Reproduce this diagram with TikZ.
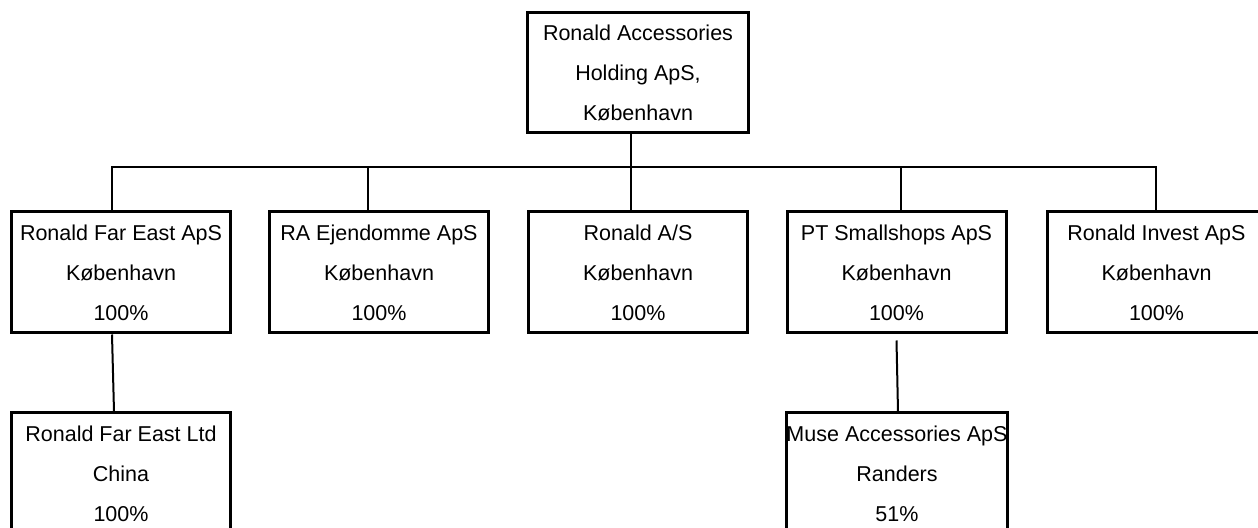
\documentclass[tikz,border=0pt]{standalone}
\usepackage{fontspec}
\setmainfont{Liberation Sans}
\usetikzlibrary{positioning,calc}
\tikzset{unit/.style={draw=black,line width=1.5pt,align=center,inner sep=0pt,
    minimum width=109.5pt,minimum height=60.5pt,font=\fontsize{10.75}{20}\selectfont}}
\begin{document}
\begin{tikzpicture}[x=0.5pt,y=-0.5pt,
  link/.style={line width=1pt,black}]
\useasboundingbox (0,0) rectangle (1258,528);
\clip (0,0) rectangle (1258,528);
% Holding company
\node[unit,minimum width=110.5pt,minimum height=60pt] (holding) at (638,73) {Ronald Accessories\\Holding ApS,\\København};
\coordinate (bus) at (631,167);
% Subsidiaries
\node[unit] (fareast) at (121,272.5) {Ronald Far East ApS\\København\\100\%};
\node[unit] (ejendomme) at (379,272.5) {RA Ejendomme ApS\\København\\100\%};
\node[unit] (ronaldas) at (638,272.5) {Ronald A/S\\København\\100\%};
\node[unit] (smallshops) at (896.5,272.5) {PT Smallshops ApS\\København\\100\%};
\node[unit] (invest) at (1156.5,272.5) {Ronald Invest ApS\\København\\100\%};
\draw[link] (holding.south -| bus)--(bus);
\draw[link] ([xshift=-4.5pt]fareast.north)|-(bus)-|([xshift=-0.5pt]invest.north);
\draw[link] ([xshift=-5.5pt]ejendomme.north)--([xshift=-5.5pt]ejendomme.north |- bus);
\draw[link] (ronaldas.north -| bus)--(bus);
\draw[link] ([xshift=2pt]smallshops.north)--([xshift=2pt]smallshops.north |- bus);
% Second level
\node[unit] (fareastltd) at (121,473.5) {Ronald Far East Ltd\\China\\100\%};
\node[unit] (muse) at (897,473.5) {Muse Accessories ApS\\Randers\\51\%};
\draw[link] ([xshift=-4.5pt]fareast.south)--([xshift=-3.5pt]fareastltd.north);
\draw[link] ([yshift=-3pt]smallshops.south)--([xshift=0.5pt]muse.north);
\end{tikzpicture}
\end{document}
